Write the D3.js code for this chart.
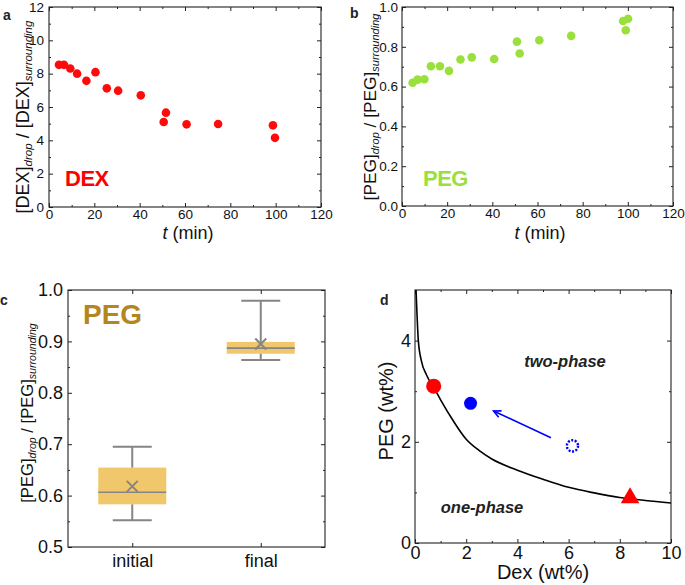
<!DOCTYPE html>
<html><head><meta charset="utf-8">
<script src="https://cdn.jsdelivr.net/npm/d3@7"></script>
<style>
html,body{margin:0;padding:0;background:#fff;}
svg{display:block;font-family:"Liberation Sans",Arial,sans-serif;}
</style></head>
<body>
<svg id="chart" width="685" height="585"></svg>
<script>
// ---- Panel a: DEX ratio vs time ----
const dexTime  = [4.4, 6.6, 9.4, 12.4, 16.5, 20.5, 25.5, 30.5, 40.5, 50.6, 51.6, 60.7, 74.6, 98.8, 99.7];
const dexRatio = [8.53, 8.53, 8.31, 8.0, 7.57, 8.09, 7.12, 6.98, 6.70, 5.10, 5.66, 4.96, 4.98, 4.90, 4.15];
// ---- Panel b: PEG ratio vs time ----
const pegTime  = [4.7, 6.9, 9.9, 12.8, 16.8, 20.8, 25.9, 30.9, 40.8, 50.9, 52.1, 60.8, 74.9, 97.9, 99.1, 100.1];
const pegRatio = [0.619, 0.635, 0.637, 0.702, 0.702, 0.679, 0.736, 0.747, 0.739, 0.826, 0.766, 0.833, 0.855, 0.930, 0.883, 0.941];
// ---- Panel c: box summary ----
const boxCategories = ["initial", "final"];
const boxQ1      = [0.583, 0.876];
const boxMedian  = [0.6065, 0.887];
const boxQ3      = [0.6545, 0.899];
const boxMean    = [0.618, 0.895];
const boxWhiskLo = [0.552, 0.864];
const boxWhiskHi = [0.695, 0.979];
// ---- Panel d: phase diagram ----
const binodalDex = [0.04, 0.08, 0.13, 0.25, 0.45, 0.75, 1.0, 1.5, 2.0, 2.5, 3.0, 4.0, 5.0, 6.0, 7.0, 8.0, 9.0, 10.0];
const binodalPeg = [5.0, 4.5, 4.0, 3.6, 3.32, 3.06, 2.83, 2.41, 2.05, 1.83, 1.66, 1.44, 1.26, 1.1, 0.99, 0.9, 0.84, 0.79];
const redCircle   = [0.73, 3.1];
const blueCircle  = [2.17, 2.76];
const dashedCircle= [6.15, 1.92];
const redTriangle = [8.40, 0.89];
const arrowFrom   = [5.31, 2.08];
const arrowTo     = [3.07, 2.61];

const svg = d3.select("#chart");
const AX = "#222";

function frame(g, x, y, opt) {
  const [x0, x1] = x.range(), [y0, y1] = y.range();
  const W = x1 - x0, H = y0 - y1;
  const fs = opt.fs;
  const bottom = g.append("g").attr("transform", `translate(0,${y0})`)
    .call((opt.xAxis || d3.axisBottom(x).tickValues(opt.xMajor).tickFormat(opt.xFmt))
      .tickSizeInner(-4).tickSizeOuter(0).tickPadding(opt.xPad));
  bottom.selectAll("text").attr("font-size", fs).attr("fill", "#111").attr("font-family", "Liberation Sans, Arial, sans-serif");
  const left = g.append("g").attr("transform", `translate(${x0},0)`)
    .call(d3.axisLeft(y).tickValues(opt.yMajor).tickFormat(opt.yFmt).tickSizeInner(-4).tickSizeOuter(0).tickPadding(opt.yPad));
  left.selectAll("text").attr("font-size", fs).attr("fill", "#111").attr("font-family", "Liberation Sans, Arial, sans-serif");
  g.append("g").attr("transform", `translate(0,${y1})`)
    .call((opt.xAxisTop || d3.axisTop(x).tickValues(opt.xMajor)).tickSizeInner(-4).tickSizeOuter(0).tickFormat(""));
  g.append("g").attr("transform", `translate(${x1},0)`)
    .call(d3.axisRight(y).tickValues(opt.yMajor).tickSizeInner(-4).tickSizeOuter(0).tickFormat(""));
  if (opt.xMinor) {
    g.append("g").attr("transform", `translate(0,${y0})`).call(d3.axisBottom(x).tickValues(opt.xMinor).tickSizeInner(-2).tickSizeOuter(0).tickFormat(""));
    g.append("g").attr("transform", `translate(0,${y1})`).call(d3.axisTop(x).tickValues(opt.xMinor).tickSizeInner(-2).tickSizeOuter(0).tickFormat(""));
  }
  if (opt.yMinor) {
    g.append("g").attr("transform", `translate(${x0},0)`).call(d3.axisLeft(y).tickValues(opt.yMinor).tickSizeInner(-2).tickSizeOuter(0).tickFormat(""));
    g.append("g").attr("transform", `translate(${x1},0)`).call(d3.axisRight(y).tickValues(opt.yMinor).tickSizeInner(-2).tickSizeOuter(0).tickFormat(""));
  }
  g.selectAll(".domain").remove();
  g.selectAll(".tick line").attr("stroke", AX);
  g.append("rect").attr("x", x0).attr("y", y1).attr("width", W).attr("height", H)
    .attr("fill", "none").attr("stroke", AX).attr("stroke-width", 1.1);
}

function ratioLabel(g, cx, cy, name, main, sub) {
  const t = g.append("text").attr("transform", `translate(${cx},${cy}) rotate(-90)`)
    .attr("text-anchor", "middle").attr("fill", "#111").attr("font-size", main);
  t.append("tspan").text(`[${name}]`);
  t.append("tspan").attr("font-size", sub).attr("font-style", "italic").attr("dy", 3).text("drop");
  t.append("tspan").attr("dy", -3).text(" / ");
  t.append("tspan").text(`[${name}]`);
  t.append("tspan").attr("font-size", sub).attr("font-style", "italic").attr("dy", 3).text("surrounding");
}

function timeTitle(g, cx, cy) {
  const t = g.append("text").attr("x", cx).attr("y", cy).attr("text-anchor", "middle")
    .attr("font-size", 18).attr("fill", "#111");
  t.append("tspan").attr("font-style", "italic").text("t");
  t.append("tspan").text(" (min)");
}

function panelLetter(x, y, s) {
  svg.append("text").attr("x", x).attr("y", y).attr("font-size", 14).attr("font-weight", "bold")
    .attr("fill", "#222").text(s);
}

// ===== Panel a =====
{
  const g = svg.append("g");
  const x = d3.scaleLinear().domain([0, 120]).range([49, 321]);
  const y = d3.scaleLinear().domain([0, 12]).range([207, 7]);
  frame(g, x, y, {fs: 13.5, xMajor: d3.range(0, 121, 20), xMinor: d3.range(10, 120, 20),
    yMajor: d3.range(0, 13, 2), yMinor: d3.range(1, 12, 2), xFmt: d3.format("d"), yFmt: d3.format("d"), xPad: 2, yPad: 5});
  g.selectAll("circle.pt").data(dexTime).join("circle").attr("class", "pt")
    .attr("cx", (d) => x(d)).attr("cy", (d, i) => y(dexRatio[i])).attr("r", 4.3).attr("fill", "#ff0a0a");
  g.append("text").attr("x", 65).attr("y", 186).attr("font-size", 22).attr("font-weight", "bold")
    .attr("fill", "#ff0000").attr("letter-spacing", -0.5).text("DEX");
  ratioLabel(g, 29, 117, "DEX", 18, 11.5);
  timeTitle(g, 188, 239);
  panelLetter(3, 20, "a");
}

// ===== Panel b =====
{
  const g = svg.append("g");
  const x = d3.scaleLinear().domain([0, 120]).range([402, 673]);
  const y = d3.scaleLinear().domain([0, 1]).range([206, 7]);
  frame(g, x, y, {fs: 13.5, xMajor: d3.range(0, 121, 20), xMinor: d3.range(10, 120, 20),
    yMajor: d3.range(0, 1.01, 0.2), yMinor: d3.range(0.1, 1, 0.2), xFmt: d3.format("d"), yFmt: d3.format(".1f"), xPad: 2, yPad: 4});
  g.selectAll("circle.pt").data(pegTime).join("circle").attr("class", "pt")
    .attr("cx", (d) => x(d)).attr("cy", (d, i) => y(pegRatio[i])).attr("r", 4.3).attr("fill", "#9ae03c");
  g.append("text").attr("x", 423).attr("y", 186).attr("font-size", 22).attr("font-weight", "bold")
    .attr("fill", "#9ae03c").attr("letter-spacing", -0.5).text("PEG");
  ratioLabel(g, 376, 107, "PEG", 17.3, 11);
  timeTitle(g, 540, 239);
  panelLetter(350, 18, "b");
}

// ===== Panel c =====
{
  const g = svg.append("g");
  const x = d3.scalePoint().domain(boxCategories).range([68, 325]).padding(0.5);
  const y = d3.scaleLinear().domain([0.5, 1.0]).range([547, 290]);
  frame(g, x, y, {fs: 18, xAxis: d3.axisBottom(x), xAxisTop: d3.axisTop(x),
    yMajor: d3.range(0.5, 1.001, 0.1), yMinor: d3.range(0.55, 1.0, 0.1), yFmt: d3.format(".1f"), xPad: 7, yPad: 5});
  const bw = 68, cw = 39, grey = "#858585";
  boxCategories.forEach((c, i) => {
    const cx = x(c);
    g.append("rect").attr("x", cx - bw / 2).attr("y", y(boxQ3[i])).attr("width", bw)
      .attr("height", y(boxQ1[i]) - y(boxQ3[i])).attr("fill", "#f0c76a");
    g.append("line").attr("x1", cx).attr("x2", cx).attr("y1", y(boxQ3[i])).attr("y2", y(boxWhiskHi[i])).attr("stroke", grey).attr("stroke-width", 2);
    g.append("line").attr("x1", cx).attr("x2", cx).attr("y1", y(boxQ1[i])).attr("y2", y(boxWhiskLo[i])).attr("stroke", grey).attr("stroke-width", 2);
    [boxWhiskHi[i], boxWhiskLo[i]].forEach((v) => {
      g.append("line").attr("x1", cx - cw / 2).attr("x2", cx + cw / 2).attr("y1", y(v)).attr("y2", y(v)).attr("stroke", grey).attr("stroke-width", 2);
    });
    g.append("line").attr("x1", cx - bw / 2).attr("x2", cx + bw / 2).attr("y1", y(boxMedian[i])).attr("y2", y(boxMedian[i])).attr("stroke", grey).attr("stroke-width", 1.6);
    const my = y(boxMean[i]), s = 5.5;
    g.append("path").attr("d", `M${cx - s},${my - s}L${cx + s},${my + s}M${cx - s},${my + s}L${cx + s},${my - s}`)
      .attr("stroke", grey).attr("stroke-width", 2);
  });
  g.append("text").attr("x", 83).attr("y", 324).attr("font-size", 28).attr("font-weight", "bold")
    .attr("fill", "#b4861c").text("PEG");
  ratioLabel(g, 33, 413, "PEG", 16.6, 10.6);
  panelLetter(0, 305, "c");
}

// ===== Panel d =====
{
  const g = svg.append("g");
  const x = d3.scaleLinear().domain([0, 10]).range([415, 671]);
  const y = d3.scaleLinear().domain([0, 5]).range([543, 290]);
  frame(g, x, y, {fs: 18, xMajor: d3.range(0, 11, 2), xMinor: d3.range(1, 10, 2),
    yMajor: [0, 2, 4], yMinor: [1, 3], xFmt: d3.format("d"), yFmt: d3.format("d"), xPad: 3, yPad: 4});
  g.append("clipPath").attr("id", "clipd").append("rect")
    .attr("x", 415).attr("y", 290).attr("width", 256).attr("height", 253);
  const line = d3.line().x((d) => x(d[0])).y((d) => y(d[1])).curve(d3.curveMonotoneX);
  g.append("path").datum(binodalDex.map((d, i) => [d, binodalPeg[i]])).attr("d", line)
    .attr("fill", "none").attr("stroke", "#000").attr("stroke-width", 1.6).attr("clip-path", "url(#clipd)");
  g.append("circle").attr("cx", x(redCircle[0])).attr("cy", y(redCircle[1])).attr("r", 7.5).attr("fill", "#ff0000");
  g.append("circle").attr("cx", x(blueCircle[0])).attr("cy", y(blueCircle[1])).attr("r", 6.5).attr("fill", "#0000ff");
  g.append("circle").attr("cx", x(dashedCircle[0])).attr("cy", y(dashedCircle[1])).attr("r", 5.6)
    .attr("fill", "none").attr("stroke", "#0000ff").attr("stroke-width", 2.4).attr("stroke-dasharray", "2,1.5");
  g.append("path").attr("d", d3.symbol(d3.symbolTriangle, 150)())
    .attr("transform", `translate(${x(redTriangle[0])},${y(redTriangle[1])})`).attr("fill", "#ff0000");
  const ax0 = x(arrowFrom[0]), ay0 = y(arrowFrom[1]), ax1 = x(arrowTo[0]), ay1 = y(arrowTo[1]);
  g.append("line").attr("x1", ax0).attr("y1", ay0).attr("x2", ax1).attr("y2", ay1).attr("stroke", "#0000ff").attr("stroke-width", 1.6);
  const ang = Math.atan2(ay1 - ay0, ax1 - ax0), L = 8, spread = 0.45;
  g.append("path").attr("d",
    `M${ax1 - L * Math.cos(ang - spread)},${ay1 - L * Math.sin(ang - spread)}L${ax1},${ay1}L${ax1 - L * Math.cos(ang + spread)},${ay1 - L * Math.sin(ang + spread)}`)
    .attr("fill", "none").attr("stroke", "#0000ff").attr("stroke-width", 1.6);
  g.append("text").attr("x", 565).attr("y", 367).attr("text-anchor", "middle").attr("font-size", 16.5)
    .attr("font-weight", "bold").attr("font-style", "italic").attr("fill", "#222").text("two-phase");
  g.append("text").attr("x", 482).attr("y", 513).attr("text-anchor", "middle").attr("font-size", 16.5)
    .attr("font-weight", "bold").attr("font-style", "italic").attr("fill", "#222").text("one-phase");
  g.append("text").attr("x", 543).attr("y", 579).attr("text-anchor", "middle").attr("font-size", 20)
    .attr("fill", "#111").text("Dex (wt%)");
  g.append("text").attr("transform", "translate(393,411) rotate(-90)").attr("text-anchor", "middle")
    .attr("font-size", 20).attr("fill", "#111").text("PEG (wt%)");
  panelLetter(380, 305, "d");
}
</script>
</body></html>
